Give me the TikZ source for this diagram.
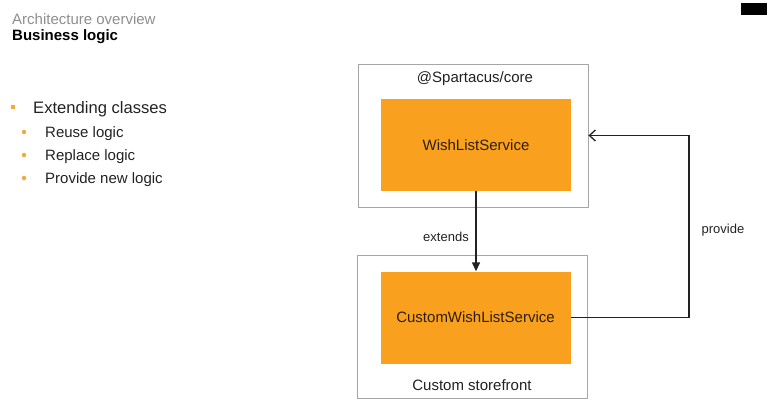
\documentclass[tikz,border=0pt]{standalone}
\usepackage{fontspec}
\setmainfont{Liberation Sans}
\usepackage{xcolor}
\definecolor{orangec}{HTML}{F9A11E}
\definecolor{bulc}{HTML}{F2A93B}
\definecolor{framec}{HTML}{A6A6A6}
\definecolor{greyc}{HTML}{8E8E8E}
\definecolor{inkc}{HTML}{222222}
\definecolor{boxtext}{HTML}{2E1E08}
\usepackage{tikz}
\usetikzlibrary{arrows.meta,positioning,calc}
\tikzset{
  outer/.style={draw=framec,line width=0.9pt,fill=white,minimum width=230pt,minimum height=143pt,inner sep=0pt},
  svc/.style={fill=orangec,minimum width=190pt,minimum height=92pt,inner sep=0pt,font=\fontsize{15}{18}\selectfont,text=boxtext},
  lbl/.style={font=\fontsize{15}{18}\selectfont,text=inkc,inner sep=0pt},
  elbl/.style={font=\fontsize{13}{16}\selectfont,text=inkc,inner sep=0pt},
  sqbul/.style={fill=bulc,minimum size=4.5pt,inner sep=0pt},
  dotbul/.style={circle,fill=bulc,minimum size=4.5pt,inner sep=0pt},
  item/.style={anchor=west,font=\fontsize{15}{18}\selectfont,text=inkc,inner sep=0pt},
  ext/.style={-{Triangle[length=9pt,width=8pt]},line width=1.4pt,draw=inkc},
  prov/.style={-{Straight Barb[length=6pt,width=11pt]},line width=1.3pt,draw=inkc},
}

\begin{document}
\begin{tikzpicture}[x=1pt,y=-1pt]
  \useasboundingbox (0,0) rectangle (773,409);
  % titel
  \node[anchor=west,inner sep=0pt,font=\fontsize{15}{18}\selectfont,text=greyc] (ttl) at (12,19) {Architecture overview};
  \node[anchor=west,inner sep=0pt,font=\fontsize{15}{18}\selectfont\bfseries,text=black] (sub) at (12,37) {Business logic};
  \fill[black] (741,3) rectangle (767,15);
  % bullets
  \node[sqbul] (b0) at (13,107) {};
  \node[item,font=\fontsize{16.6}{20}\selectfont] (t0) at (33,109.5) {Extending classes};
  \foreach \n/\y/\txt in {1/132/Reuse logic,2/155/Replace logic,3/178/Provide new logic}{
    \node[dotbul] (b\n) at (24,\y) {};
    \node[item] (t\n) at (45,\y+1.5) {\txt};
  }
  % core
  \node[outer] (core) at (473,135.5) {};
  \node[lbl] (corel) at (475,79) {@Spartacus/core};
  \node[svc] (wls) at (476,145) {WishListService};
  % storefront
  \node[outer] (store) at (472,326.5) {};
  \node[svc] (cwls) at (475.5,317.5) {CustomWishListService};
  \node[lbl] (storel) at (472,385) {Custom storefront};
  % pfeile
  \draw[ext] (wls.south) -- (wls.south |- cwls.north);
  \node[elbl] (extl) at (446,237) {extends};
  \coordinate (pr) at (689,0);
  \draw[prov] (cwls.east) -- (cwls.east -| pr) -- (core.east -| pr) -- (core.east);
  \node[elbl] (provl) at (723,230) {provide};
\end{tikzpicture}
\end{document}
